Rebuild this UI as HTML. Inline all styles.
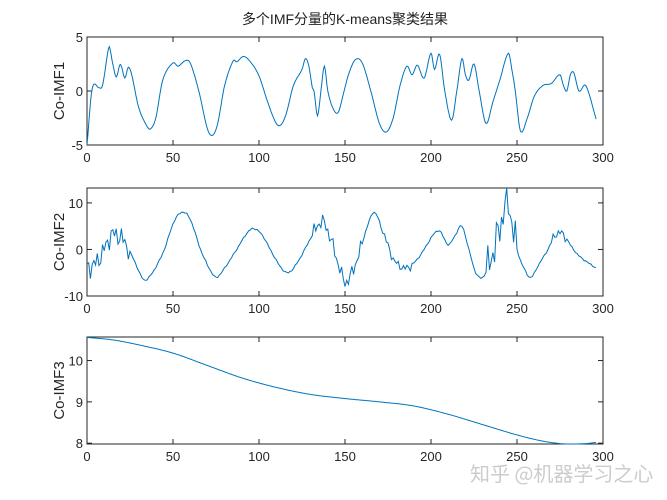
<!DOCTYPE html>
<html><head><meta charset="utf-8"><style>
body{margin:0;background:#fff}
svg{display:block;font-family:"Liberation Sans","Noto Sans CJK SC",sans-serif}
</style></head><body>
<svg id="s" width="667" height="500" xmlns="http://www.w3.org/2000/svg">
<text x="345" y="24" font-size="14" text-anchor="middle" fill="#222">多个IMF分量的K-means聚类结果</text>
<text x="470" y="481" font-size="20" fill="#ccc" font-family="'Noto Sans CJK SC',sans-serif">知乎 @机器学习之心</text>
</svg>
<script>
const s=document.getElementById('s');const NS='http://www.w3.org/2000/svg';
function el(t,a,txt){const e=document.createElementNS(NS,t);for(const k in a)e.setAttribute(k,a[k]);if(txt!==undefined)e.textContent=txt;s.appendChild(e);return e;}
const L=87,R=603;const xs=v=>L+(R-L)*v/300;
function interp(kp,x){for(let i=0;i<kp.length-1;i++){if(x<=kp[i+1][0]){const p0=kp[Math.max(0,i-1)],p1=kp[i],p2=kp[i+1],p3=kp[Math.min(kp.length-1,i+2)];const t=(x-p1[0])/(p2[0]-p1[0]);const m1=(p2[1]-p0[1])/(p2[0]-p0[0])*(p2[0]-p1[0]),m2=(p3[1]-p1[1])/(p3[0]-p1[0])*(p2[0]-p1[0]);const t2=t*t,t3=t2*t;return (2*t3-3*t2+1)*p1[1]+(t3-2*t2+t)*m1+(-2*t3+3*t2)*p2[1]+(t3-t2)*m2;}}return kp[kp.length-1][1];}
function axes(top,bot,ymin,ymax,yt,lab){
 const ys=v=>bot-(bot-top)*(v-ymin)/(ymax-ymin);
 el('rect',{x:L,y:top,width:R-L,height:bot-top,fill:'#fff',stroke:'#262626','stroke-width':1});
 for(let v=0;v<=300;v+=50){const x=xs(v);el('line',{x1:x,x2:x,y1:bot,y2:bot-5,stroke:'#262626'});el('line',{x1:x,x2:x,y1:top,y2:top+5,stroke:'#262626'});el('text',{x:x,y:bot+17,'font-size':13,'text-anchor':'middle',fill:'#262626'},v);}
 for(const v of yt){const y=ys(v);el('line',{x1:L,x2:L+5,y1:y,y2:y,stroke:'#262626'});el('line',{x1:R,x2:R-5,y1:y,y2:y,stroke:'#262626'});el('text',{x:L-4,y:y+5,'font-size':13,'text-anchor':'end',fill:'#262626'},v);}
 el('text',{x:0,y:0,'font-size':15,'text-anchor':'middle',fill:'#262626',transform:`translate(${L-23},${(top+bot)/2}) rotate(-90)`},lab);
 return ys;}
function plot(ys,f,top,bot,st){let d='';for(let x=0;x<=296;x+=st){let y=ys(f(x));y=Math.max(top,Math.min(bot,y));d+=(d?'L':'M')+xs(x).toFixed(1)+','+y.toFixed(1);}el('path',{d:d,fill:'none',stroke:'#0072BD','stroke-width':1});}
const k1=[[0,-5],[3,0.2],[7,0.3],[9,0.5],[12,3.5],[13,4.1],[15,2.5],[17,1.3],[19,2.4],[20,2.3],[22,1.2],[24,2.2],[26,1.5],[30,-1.5],[35,-3.3],[37,-3.5],[40,-2.5],[44,1],[50,2.6],[53,2.3],[57,2.8],[60,2.6],[65,0],[70,-3.5],[73,-4.1],[76,-3],[80,0.5],[85,2.8],[87,2.7],[91,3.2],[95,2.7],[100,1.4],[105,-1],[110,-3],[113,-3.1],[116,-2],[120,0.5],[125,2],[127,3],[129,2.3],[131,0.3],[132,0],[134,-2.3],[136,0],[138,2.3],[140,0],[143,-1.6],[146,-2],[149,-0.3],[152,1.5],[156,2.9],[160,2.6],[165,0],[170,-3],[174,-3.8],[178,-2.5],[182,0.5],[186,2.3],[189,1.5],[192,2.4],[196,1.2],[200,3.5],[202,2],[205,3.4],[208,0],[212,-2.7],[215,0],[218,3],[220,1.5],[222,1],[225,2.5],[228,0],[232,-3],[236,-1],[240,1],[245,3.5],[247,2],[249,0],[252,-3.7],[256,-2.5],[260,-0.5],[265,0.5],[270,0.7],[275,1.5],[277,0.5],[279,0],[281,1.5],[283,1.7],[286,0],[290,0.5],[296,-2.6]];
const y1=axes(37,145,-5,5,[5,0,-5],'Co-IMF1');plot(y1,x=>interp(k1,x),37,145,0.5);
const k2=[[0,-4],[5,-3],[10,0],[14,3],[18,3],[22,1.5],[27,-2],[33,-6.5],[38,-5],[45,0],[50,5.5],[55,8],[60,6.5],[66,0],[71,-4],[75,-6],[80,-4],[87,0],[93,3.5],[97,4.5],[102,3],[108,-1],[113,-4],[117,-5],[122,-3],[128,1],[133,4.5],[137,6],[141,3],[146,-3],[150,-7],[154,-5],[159,0],[163,5],[167,8],[172,4],[178,-2],[185,-4],[190,-3],[196,0],[201,3],[205,4],[210,1],[214,3],[218,5],[222,0],[226,-5],[230,-6],[234,-3],[238,2],[241,6],[244,11],[247,6],[250,0],[254,-4],[258,-6],[263,-3],[268,0],[272,3],[276,3.5],[280,1.5],[285,-1],[290,-2.5],[296,-4]];
function nz(x){let a=0;if(x<25)a=2.6;else if(x>130&&x<160)a=1.8;else if(x>170&&x<192)a=1.0;else if(x>232&&x<250)a=5;else if(x>268&&x<282)a=1.0;else a=0.2;return a*(Math.sin(x*2.3)*0.6+Math.sin(x*5.1+1)*0.4);}
const y2=axes(188,296,-10,13.2,[10,0,-10],'Co-IMF2');plot(y2,x=>interp(k2,x)+nz(x),188,296,1);
const k3=[[0,10.56],[15,10.5],[30,10.38],[50,10.18],[70,9.88],[90,9.58],[110,9.35],[130,9.18],[150,9.08],[170,9.0],[190,8.9],[210,8.7],[230,8.45],[250,8.2],[265,8.05],[278,7.98],[290,7.99],[296,8.02]];
const y3=axes(337,444,7.98,10.57,[10,9,8],'Co-IMF3');plot(y3,x=>interp(k3,x),337,444,0.5);
</script>
</body></html>
